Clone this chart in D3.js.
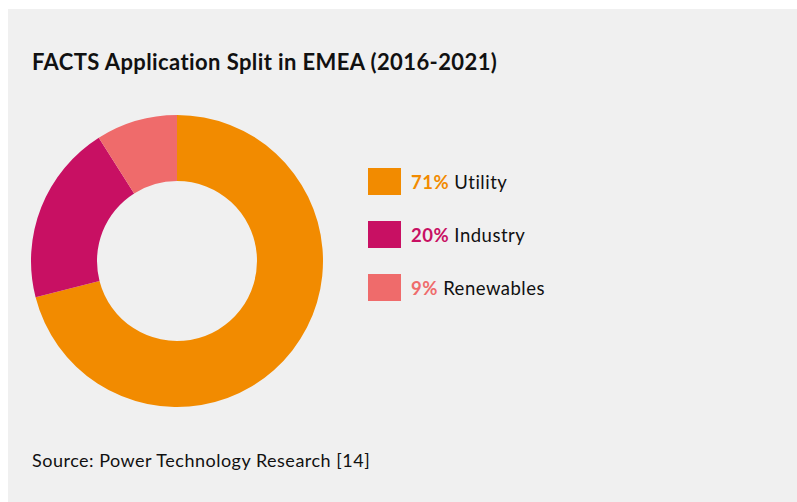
<!DOCTYPE html>
<meta charset="utf-8">
<style>
  body { margin: 0; background: #fff; }
  text { font-family: Lato, "Open Sans", sans-serif; }
</style>
<div class="chart"></div>
<script src="https://cdn.jsdelivr.net/npm/d3@7"></script>
<script>
    var categories = ["Utility", "Industry", "Renewables"],
        shares = [71, 20, 9],
        colors = ["#f28b00", "#c81063", "#ef6b6b"];

    var width = 797, height = 502;

    var svg = d3.select(".chart")
        .append("svg")
        .attr("width", width)
        .attr("height", height);

    svg.append("rect")
        .attr("x", 8).attr("y", 9)
        .attr("width", width - 8).attr("height", height - 9)
        .attr("fill", "#f0f0f0");

    svg.append("text")
        .attr("x", 32).attr("y", 70)
        .attr("font-size", 22)
        .attr("font-weight", "bold")
        .attr("letter-spacing", 0.4)
        .attr("fill", "#111")
        .text("FACTS Application Split in EMEA (2016-2021)");

    var data = categories.map((c, i) => ({ name: c, value: shares[i], color: colors[i] }));

    var pie = d3.pie().sort(null).value((d) => d.value);
    var arc = d3.arc().innerRadius(80).outerRadius(146);

    var donut = svg.append("g")
        .attr("transform", "translate(177,261)");

    donut.selectAll("path")
        .data(pie(data))
        .enter().append("path")
        .attr("d", arc)
        .attr("fill", (d) => d.data.color);

    var y = d3.scaleBand()
        .domain(categories)
        .range([155, 314]);

    var legend = svg.selectAll(".legend")
        .data(data)
        .enter().append("g")
        .attr("class", "legend")
        .attr("transform", (d) => "translate(368," + (y(d.name) + y.bandwidth() / 2) + ")");

    legend.append("rect")
        .attr("x", 0).attr("y", -13.5)
        .attr("width", 33).attr("height", 27)
        .attr("fill", (d) => d.color);

    var label = legend.append("text")
        .attr("x", 43).attr("y", 7)
        .attr("font-size", 18.5)
        .attr("letter-spacing", 0.5);

    label.append("tspan")
        .attr("font-weight", "bold")
        .attr("fill", (d) => d.color)
        .text((d) => d.value + "%");

    label.append("tspan")
        .attr("fill", "#111")
        .text((d) => " " + d.name);

    svg.append("text")
        .attr("x", 32).attr("y", 467)
        .attr("font-size", 18)
        .attr("letter-spacing", 0.5)
        .attr("fill", "#111")
        .text("Source: Power Technology Research [14]");
</script>
